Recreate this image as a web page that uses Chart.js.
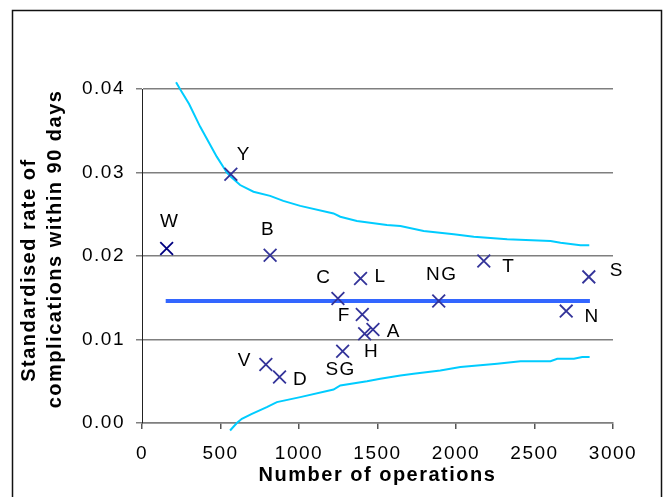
<!DOCTYPE html>
<html>
<head>
<meta charset="utf-8">
<script src="https://cdn.jsdelivr.net/npm/chart.js@4.4.1/dist/chart.umd.min.js"></script>
<style>
  html, body { margin: 0; padding: 0; background: #fff; }
  canvas { display: block; }
</style>
</head>
<body>
<canvas id="funnelChart" width="665" height="497"></canvas>
<script>
// hospitals, number of operations and standardised 90-day complication rate
const hospitals = ['W', 'Y', 'B', 'C', 'L', 'NG', 'T', 'S', 'N', 'F', 'A', 'H', 'SG', 'V', 'D'];
const operations = [157, 566, 816, 1248, 1392, 1890, 2177, 2846, 2702, 1403, 1471, 1418, 1278, 789, 876];
const rates = [0.0209, 0.0298, 0.0201, 0.0149, 0.0173, 0.0146, 0.0194, 0.0175, 0.0134, 0.0130, 0.0112, 0.0107, 0.0086, 0.0070, 0.0055];

// overall mean rate
const meanOps = [151, 2853];
const meanRate = 0.0146;

// control limits (funnel)
const upperOps = [217, 242, 300, 370, 476, 540, 566, 625, 710, 816, 900, 1008, 1220, 1263, 1369, 1560, 1646, 1794, 1986, 2113, 2326, 2602, 2666, 2793, 2849];
const upperRate = [0.0408, 0.0400, 0.0382, 0.0355, 0.0319, 0.0300, 0.0295, 0.0285, 0.0277, 0.0272, 0.0266, 0.0260, 0.0251, 0.0247, 0.0242, 0.0237, 0.0236, 0.0230, 0.0226, 0.0223, 0.0220, 0.0218, 0.0216, 0.0213, 0.0213];
const lowerOps = [561, 604, 636, 700, 795, 859, 1008, 1220, 1263, 1433, 1518, 1646, 1730, 1900, 2028, 2262, 2411, 2602, 2645, 2751, 2804, 2851];
const lowerRate = [-0.0009, 0.0000, 0.0005, 0.0011, 0.0019, 0.0025, 0.0031, 0.0040, 0.0045, 0.0050, 0.0053, 0.0057, 0.0059, 0.0063, 0.0067, 0.0071, 0.0074, 0.0074, 0.0077, 0.0077, 0.0079, 0.0079];

// axis ticks
const xTicks = [0, 500, 1000, 1500, 2000, 2500, 3000];
const yTicks = [0, 0.01, 0.02, 0.03, 0.04];

// label placement relative to each cross (px)
const labelOffsets = {
    W: [2, -27], Y: [12, -19], B: [-3, -25], C: [-15, -21], L: [19, -2],
    NG: [2, -26], T: [24, 6], S: [27, -6], N: [25, 6], F: [-19, 1],
    A: [20, 2], H: [6, 18], SG: [-3, 19], V: [-22, -4], D: [20, 3]
};

const FONT = '"Liberation Sans", Arial, sans-serif';
Chart.defaults.font.family = FONT;
Chart.defaults.color = '#000';

const toXY = (xs, ys) => xs.map((x, i) => ({ x: x, y: ys[i] }));

const spacing = {
    id: 'spacing',
    beforeUpdate(chart) { chart.ctx.letterSpacing = '1.5px'; },
    beforeDraw(chart) {
        const ctx = chart.ctx;
        ctx.letterSpacing = '1.5px';
        ctx.save();
        ctx.fillStyle = '#fff';
        ctx.fillRect(0, 0, chart.width, chart.height);
        ctx.strokeStyle = '#111';
        ctx.lineWidth = 1.5;
        ctx.strokeRect(12.5, 10.5, 649, 520);
        ctx.restore();
    }
};

const pointLabels = {
    id: 'pointLabels',
    afterDatasetsDraw(chart) {
        const ctx = chart.ctx;
        const meta = chart.getDatasetMeta(0);
        ctx.save();
        ctx.font = '19px ' + FONT;
        ctx.fillStyle = '#000';
        ctx.textAlign = 'center';
        ctx.textBaseline = 'middle';
        meta.data.forEach((pt, i) => {
            const name = hospitals[i];
            const off = labelOffsets[name] || [0, -20];
            ctx.fillText(name, pt.x + off[0] + 1, pt.y + off[1]);
        });
        ctx.restore();
    }
};

const ctx = document.getElementById('funnelChart').getContext('2d');

const funnelChart = new Chart(ctx, {
    type: 'scatter',
    data: {
        datasets: [
            {
                label: 'Hospitals',
                data: toXY(operations, rates),
                pointStyle: 'crossRot',
                pointRadius: 9,
                pointHoverRadius: 9,
                borderWidth: 1.8,
                pointBorderColor: hospitals.map(h => h === 'W' ? '#000080' : '#333399'),
                showLine: false
            },
            {
                label: 'Mean',
                data: toXY(meanOps, [meanRate, meanRate]),
                showLine: true,
                borderColor: '#3366ff',
                borderWidth: 4,
                pointRadius: 0
            },
            {
                label: 'Upper limit',
                data: toXY(upperOps, upperRate),
                showLine: true,
                borderColor: '#00ccff',
                borderWidth: 2,
                pointRadius: 0,
                clip: false
            },
            {
                label: 'Lower limit',
                data: toXY(lowerOps, lowerRate),
                showLine: true,
                borderColor: '#00ccff',
                borderWidth: 2,
                pointRadius: 0,
                clip: false
            }
        ]
    },
    options: {
        responsive: false,
        animation: false,
        layout: { padding: { top: 89, right: 52, left: 0, bottom: 0 } },
        plugins: {
            legend: { display: false },
            tooltip: { enabled: false }
        },
        scales: {
            x: {
                type: 'linear',
                min: 0,
                max: 3000,
                afterBuildTicks: (scale) => { scale.ticks = xTicks.map(v => ({ value: v })); },
                afterFit: (scale) => { scale.height = 74; },
                ticks: {
                    font: { size: 19 },
                    padding: 13,
                    maxRotation: 0,
                    callback: v => String(v)
                },
                grid: {
                    drawOnChartArea: false,
                    tickLength: 6,
                    color: '#555',
                    lineWidth: 1.5
                },
                border: { color: '#7f7f7f', width: 1.5 },
                title: {
                    display: true,
                    text: 'Number of operations',
                    font: { size: 20, weight: 'bold', lineHeight: 1.2 },
                    padding: { top: 0, bottom: 10 }
                }
            },
            y: {
                min: 0,
                max: 0.04,
                afterBuildTicks: (scale) => { scale.ticks = yTicks.map(v => ({ value: v })); },
                afterFit: (scale) => { scale.width = 142; },
                ticks: {
                    font: { size: 19 },
                    padding: 11,
                    callback: v => v.toFixed(2)
                },
                grid: {
                    color: '#7f7f7f',
                    lineWidth: 1.5,
                    tickLength: 6
                },
                border: { color: '#222', width: 1 },
                title: {
                    display: true,
                    // trailing/leading spaces nudge the two lines like the original
                    text: ['Standardised rate of    ', '  complications within 90 days'],
                    font: { size: 20, weight: 'bold', lineHeight: 1.275 },
                    padding: { top: 17, bottom: 0 }
                }
            }
        }
    },
    plugins: [spacing, pointLabels]
});
</script>
</body>
</html>
